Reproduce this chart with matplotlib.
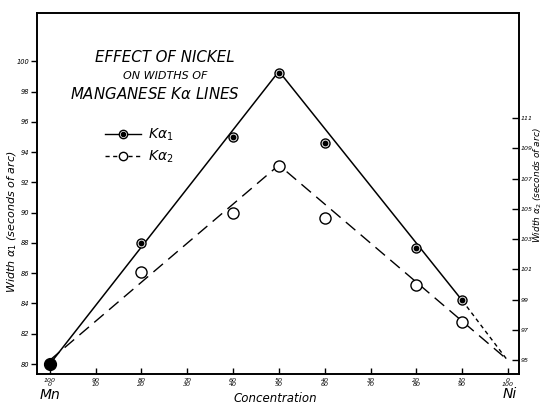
import matplotlib
matplotlib.use("Agg")
import matplotlib.pyplot as plt
from matplotlib.lines import Line2D
from matplotlib.legend_handler import HandlerTuple

plt.rcParams['font.family'] = ['DejaVu Sans']

# --- data (Ni concentration in %) ---
ni_conc = [0, 20, 40, 50, 60, 80, 90]
ka1_width = [80.0, 88.0, 95.0, 99.25, 94.6, 87.7, 84.2]          # left axis
ka2_conc = [20, 40, 50, 60, 80, 90]
ka2_width = [100.8, 104.75, 107.85, 104.4, 99.95, 97.5]           # right axis

ka1_fit_x = [0, 50, 90]
ka1_fit_y = [80.0, 99.35, 84.2]
ka1_ext_x = [90, 100]
ka1_ext_y = [84.2, 80.2]
ka2_fit_x = [0, 50, 100]
ka2_fit_y = [95.0, 107.9, 95.0]

x_ticks = [0, 10, 20, 30, 40, 50, 60, 70, 80, 90, 100]
x_ticklabels = [f"{100 - v}\n{v}" for v in x_ticks]
left_ticks = [80, 82, 84, 86, 88, 90, 92, 94, 96, 98, 100]
right_ticks = [95, 97, 99, 101, 103, 105, 107, 109, 111]

W, H = 544, 405
fig = plt.figure(figsize=(W / 100, H / 100), dpi=100)
ax = fig.add_axes([37 / W, 1 - 374 / H, (519 - 37) / W, (374 - 13) / H])

ax.set_xlim(-2.8, 102.4)
ylo, yhi = 79.34, 103.2
ax.set_ylim(ylo, yhi)
off = 14.75
ax2 = ax.twinx()
ax2.set_ylim(ylo + off, yhi + off)

for a in (ax, ax2):
    for s in a.spines.values():
        s.set_linewidth(1.2)

# Kα1 lines
ax.plot(ka1_fit_x, ka1_fit_y, color='black', lw=1.1, zorder=2)
ax.plot(ka1_ext_x, ka1_ext_y, color='black', lw=1.0, ls=(0, (3, 2.5)), zorder=2)
# Kα2 line
ax2.plot(ka2_fit_x, ka2_fit_y, color='black', lw=1.0, ls=(0, (9, 5)), zorder=2)

# Kα1 markers (ring with dot)
ax.plot(ni_conc[1:], ka1_width[1:], ls='none', marker='o', ms=6.5, mfc='white',
        mec='black', mew=1.0, zorder=4)
ax.plot(ni_conc[1:], ka1_width[1:], ls='none', marker='o', ms=3.2, mfc='black',
        mec='black', zorder=5)
# Mn point (filled)
ax.plot(ni_conc[:1], ka1_width[:1], ls='none', marker='o', ms=8.5, color='black', zorder=5)
# Kα2 markers
ax2.plot(ka2_conc, ka2_width, ls='none', marker='o', ms=8, mfc='white',
         mec='black', mew=1.0, zorder=4)

# ticks
ax.set_xticks(x_ticks)
ax.set_xticklabels(x_ticklabels, fontsize=4.5, style='italic', linespacing=0.8)
ax.tick_params(axis='x', direction='in', length=4, width=1, pad=3)
ax.set_yticks(left_ticks)
ax.set_yticklabels([str(v) for v in left_ticks], fontsize=4.8, style='italic')
ax.tick_params(axis='y', direction='out', length=4, width=1, pad=1.5)
ax2.set_yticks(right_ticks)
ax2.set_yticklabels([str(v) for v in right_ticks], fontsize=4.5, style='italic')
ax2.tick_params(axis='y', direction='in', length=5, width=1, pad=1)

# axis labels
fig.text(12 / W, 1 - 222 / H, "Width $\\alpha_1$ (seconds of arc)", rotation=90,
         ha='center', va='center', fontsize=8, style='italic')
fig.text(538 / W, 1 - 185 / H, "Width $\\alpha_2$ (seconds of arc)", rotation=90,
         ha='center', va='center', fontsize=6.5, style='italic')
fig.text(275 / W, 1 - 398 / H, "Concentration", ha='center', va='center',
         fontsize=8.5, style='italic')
fig.text(50 / W, 1 - 395 / H, "Mn", ha='center', va='center', fontsize=10, style='italic')
fig.text(510 / W, 1 - 394 / H, "Ni", ha='center', va='center', fontsize=10, style='italic')

# title block
fig.text(165 / W, 1 - 58 / H, "EFFECT OF NICKEL", ha='center', va='center',
         fontsize=10.8, style='italic')
fig.text(165 / W, 1 - 76 / H, "ON WIDTHS OF", ha='center', va='center',
         fontsize=8, style='italic')
fig.text(155 / W, 1 - 94 / H, "MANGANESE K$\\alpha$ LINES", ha='center', va='center',
         fontsize=10.8, style='italic')

# legend
h1 = (Line2D([], [], color='black', lw=1.0, marker='o', ms=6, mfc='white', mec='black'),
      Line2D([], [], ls='none', marker='o', ms=3, color='black'))
h2 = Line2D([], [], color='black', lw=1.0, ls=(0, (3, 2.5)), marker='o', ms=6,
            mfc='white', mec='black')
leg = ax.legend([h1, h2], ["K$\\alpha_1$", "K$\\alpha_2$"],
                handler_map={tuple: HandlerTuple(ndivide=1, pad=0)},
                loc='upper left', bbox_to_anchor=((92 - 37) / (519 - 37), 1 - (114 - 13) / (374 - 13)),
                frameon=False, handlelength=2.6, handletextpad=0.5,
                labelspacing=0.4, prop={'style': 'italic', 'size': 10})

fig.savefig("out.png", dpi=100)
